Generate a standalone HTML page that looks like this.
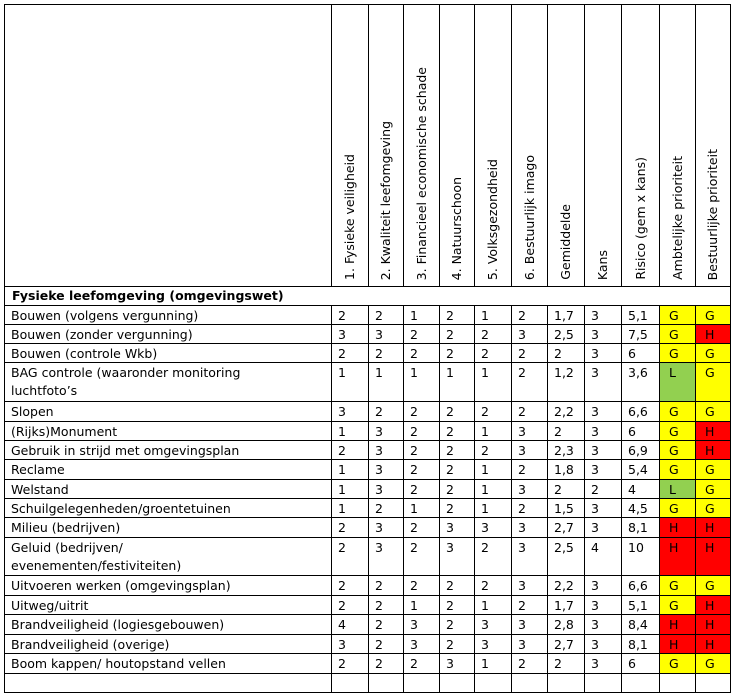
<!DOCTYPE html>
<html><head><meta charset="utf-8"><style>
body{margin:0;background:#fff;}
table{position:absolute;left:4px;top:4px;border-collapse:collapse;table-layout:fixed;font-family:"DejaVu Sans","Liberation Sans",sans-serif;font-size:12.5px;color:#000;}
td{border:1px solid #000;padding:2px 0 0 6px;vertical-align:top;line-height:16px;white-space:nowrap;overflow:hidden;}
tr.h td{height:281px;padding:0;vertical-align:bottom;}
.v{writing-mode:vertical-rl;transform:rotate(180deg);margin:0 auto 6px auto;width:18px;line-height:18px;text-align:left;}
.Y{background:#ffff00;}.R{background:#ff0000;}.L{background:#92d050;}
.c{text-align:left;padding-left:9px;}
.t{line-height:18px;padding-top:1px;}
</style></head><body>
<table>
<colgroup><col style="width:327px"><col style="width:37px"><col style="width:35px"><col style="width:36px"><col style="width:35px"><col style="width:37px"><col style="width:36px"><col style="width:37px"><col style="width:37px"><col style="width:38px"><col style="width:36px"><col style="width:35px"></colgroup>
<tr class="h"><td></td><td><div class="v">1. Fysieke veiligheid</div></td><td><div class="v">2. Kwaliteit leefomgeving</div></td><td><div class="v">3. Financieel economische schade</div></td><td><div class="v">4. Natuurschoon</div></td><td><div class="v">5. Volksgezondheid</div></td><td><div class="v">6. Bestuurlijk imago</div></td><td><div class="v">Gemiddelde</div></td><td><div class="v">Kans</div></td><td><div class="v">Risico (gem x kans)</div></td><td><div class="v">Ambtelijke prioriteit</div></td><td><div class="v">Bestuurlijke prioriteit</div></td></tr>
<tr style="height:19px"><td colspan="12" style="font-weight:bold;padding-left:7px;padding-top:1px">Fysieke leefomgeving (omgevingswet)</td></tr>
<tr style="height:19px"><td>Bouwen (volgens vergunning)</td><td>2</td><td>2</td><td>1</td><td>2</td><td>1</td><td>2</td><td>1,7</td><td>3</td><td>5,1</td><td class="Y c">G</td><td class="Y c">G</td></tr>
<tr style="height:19px"><td>Bouwen (zonder vergunning)</td><td>3</td><td>3</td><td>2</td><td>2</td><td>2</td><td>3</td><td>2,5</td><td>3</td><td>7,5</td><td class="Y c">G</td><td class="R c">H</td></tr>
<tr style="height:19px"><td>Bouwen (controle Wkb)</td><td>2</td><td>2</td><td>2</td><td>2</td><td>2</td><td>2</td><td>2</td><td>3</td><td>6</td><td class="Y c">G</td><td class="Y c">G</td></tr>
<tr style="height:39px"><td class="t">BAG controle (waaronder monitoring<br>luchtfoto’s</td><td>1</td><td>1</td><td>1</td><td>1</td><td>1</td><td>2</td><td>1,2</td><td>3</td><td>3,6</td><td class="L c">L</td><td class="Y c">G</td></tr>
<tr style="height:20px"><td>Slopen</td><td>3</td><td>2</td><td>2</td><td>2</td><td>2</td><td>2</td><td>2,2</td><td>3</td><td>6,6</td><td class="Y c">G</td><td class="Y c">G</td></tr>
<tr style="height:19px"><td>(Rijks)Monument</td><td>1</td><td>3</td><td>2</td><td>2</td><td>1</td><td>3</td><td>2</td><td>3</td><td>6</td><td class="Y c">G</td><td class="R c">H</td></tr>
<tr style="height:19px"><td>Gebruik in strijd met omgevingsplan</td><td>2</td><td>3</td><td>2</td><td>2</td><td>2</td><td>3</td><td>2,3</td><td>3</td><td>6,9</td><td class="Y c">G</td><td class="R c">H</td></tr>
<tr style="height:20px"><td>Reclame</td><td>1</td><td>3</td><td>2</td><td>2</td><td>1</td><td>2</td><td>1,8</td><td>3</td><td>5,4</td><td class="Y c">G</td><td class="Y c">G</td></tr>
<tr style="height:19px"><td>Welstand</td><td>1</td><td>3</td><td>2</td><td>2</td><td>1</td><td>3</td><td>2</td><td>2</td><td>4</td><td class="L c">L</td><td class="Y c">G</td></tr>
<tr style="height:19px"><td>Schuilgelegenheden/groentetuinen</td><td>1</td><td>2</td><td>1</td><td>2</td><td>1</td><td>2</td><td>1,5</td><td>3</td><td>4,5</td><td class="Y c">G</td><td class="Y c">G</td></tr>
<tr style="height:20px"><td>Milieu (bedrijven)</td><td>2</td><td>3</td><td>2</td><td>3</td><td>3</td><td>3</td><td>2,7</td><td>3</td><td>8,1</td><td class="R c">H</td><td class="R c">H</td></tr>
<tr style="height:38px"><td class="t">Geluid (bedrijven/<br>evenementen/festiviteiten)</td><td>2</td><td>3</td><td>2</td><td>3</td><td>2</td><td>3</td><td>2,5</td><td>4</td><td>10</td><td class="R c">H</td><td class="R c">H</td></tr>
<tr style="height:20px"><td>Uitvoeren werken (omgevingsplan)</td><td>2</td><td>2</td><td>2</td><td>2</td><td>2</td><td>3</td><td>2,2</td><td>3</td><td>6,6</td><td class="Y c">G</td><td class="Y c">G</td></tr>
<tr style="height:19px"><td>Uitweg/uitrit</td><td>2</td><td>2</td><td>1</td><td>2</td><td>1</td><td>2</td><td>1,7</td><td>3</td><td>5,1</td><td class="Y c">G</td><td class="R c">H</td></tr>
<tr style="height:20px"><td>Brandveiligheid (logiesgebouwen)</td><td>4</td><td>2</td><td>3</td><td>2</td><td>3</td><td>3</td><td>2,8</td><td>3</td><td>8,4</td><td class="R c">H</td><td class="R c">H</td></tr>
<tr style="height:19px"><td>Brandveiligheid (overige)</td><td>3</td><td>2</td><td>3</td><td>2</td><td>3</td><td>3</td><td>2,7</td><td>3</td><td>8,1</td><td class="R c">H</td><td class="R c">H</td></tr>
<tr style="height:20px"><td>Boom kappen/ houtopstand vellen</td><td>2</td><td>2</td><td>2</td><td>3</td><td>1</td><td>2</td><td>2</td><td>3</td><td>6</td><td class="Y c">G</td><td class="Y c">G</td></tr>
<tr style="height:19px"><td></td><td></td><td></td><td></td><td></td><td></td><td></td><td></td><td></td><td></td><td></td><td></td></tr>
</table>
</body></html>
